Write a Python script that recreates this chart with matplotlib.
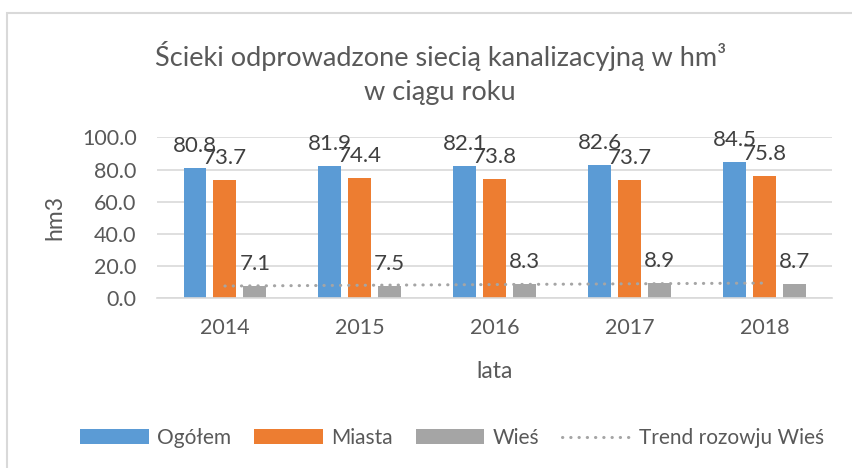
import numpy as np
import matplotlib
matplotlib.use("Agg")
import matplotlib.pyplot as plt
from matplotlib.patches import Rectangle

# data
years = ["2014", "2015", "2016", "2017", "2018"]
ogolem = [80.8, 81.9, 82.1, 82.6, 84.5]
miasta = [73.7, 74.4, 73.8, 73.7, 75.8]
wies = [7.1, 7.5, 8.3, 8.9, 8.7]

series = [
    ("Ogółem", ogolem, "#5B9BD5"),
    ("Miasta", miasta, "#ED7D31"),
    ("Wieś", wies, "#A5A5A5"),
]

plt.rcParams["font.family"] = ["Lato", "DejaVu Sans"]
text_col = "#595959"
label_col = "#404040"
grid_col = "#D9D9D9"

fig = plt.figure(figsize=(8.53, 4.68), dpi=100)
ax = fig.add_axes([0.1846, 0.3643, 0.7908, 0.3419])

x = np.arange(len(years))
width = 0.17
offsets = [-0.222, 0.0, 0.222]

for (name, vals, col), off in zip(series, offsets):
    bars = ax.bar(x + off, vals, width, color=col, label=name, zorder=2)
    for rect, v in zip(bars, vals):
        ax.annotate(f"{v:.1f}", (rect.get_x() + rect.get_width() / 2, v),
                    xytext=(0, 11.5), textcoords="offset points",
                    ha="center", va="baseline", fontsize=16, color=label_col,
                    zorder=4)

# linear trend of the rural series
coef = np.polyfit(x, wies, 1)
ax.plot(x, np.polyval(coef, x), color="#A5A5A5", lw=2.2,
        linestyle=(0, (0.1, 2.6)), dash_capstyle="round",
        label="Trend rozowju Wieś", zorder=3)

ax.set_xlim(-0.5, len(years) - 0.5)
ax.set_ylim(0, 100)
ax.set_yticks(np.arange(0, 101, 20))
ax.set_yticklabels([f"{t:.1f}" for t in np.arange(0, 101, 20)])
ax.set_xticks(x)
ax.set_xticklabels(years)
ax.tick_params(axis="both", length=0, labelsize=15.5, colors=text_col)
ax.tick_params(axis="x", pad=15)
ax.tick_params(axis="y", pad=15)

ax.grid(axis="y", color=grid_col, lw=1.2, zorder=0)
for s in ["top", "right", "left"]:
    ax.spines[s].set_visible(False)
ax.spines["bottom"].set_color(grid_col)
ax.spines["bottom"].set_linewidth(1.2)

ax.set_ylabel("hm3", fontsize=16.5, color=text_col, labelpad=12)
ax.set_xlabel("lata", fontsize=16.5, color=text_col, labelpad=16)

fig.text(0.516, 0.845, "Ścieki odprowadzone siecią kanalizacyjną w hm³\nw ciągu roku",
         ha="center", va="center", fontsize=19.5, color=text_col, linespacing=1.45)

handles, labels = ax.get_legend_handles_labels()
order = [1, 2, 3, 0]
leg = fig.legend([handles[i] for i in order], [labels[i] for i in order],
                 loc="center", bbox_to_anchor=(0.53, 0.064), ncol=4, frameon=False,
                 fontsize=15, handlelength=3.3, handletextpad=0.4,
                 columnspacing=1.1, labelcolor=text_col)

# chart border (cropped at right and bottom)
fig.patches.append(Rectangle((7 / 853, -0.1), 1.2, 1.1 - 13 / 468,
                             transform=fig.transFigure, fill=False,
                             edgecolor=grid_col, lw=1.5))

fig.savefig("out.png", dpi=100)
